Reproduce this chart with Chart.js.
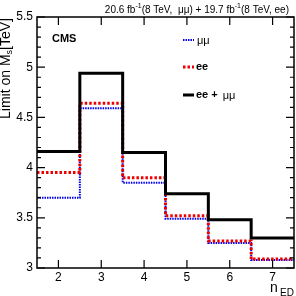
<!DOCTYPE html>
<html><head><meta charset="utf-8">
<script src="https://cdn.jsdelivr.net/npm/chart.js@4.4.1/dist/chart.umd.min.js"></script>
<style>html,body{margin:0;padding:0;background:#fff}#wrap{width:296px;height:296px}</style>
</head><body><div id="wrap"><canvas id="c" width="296" height="296"></canvas></div>
<script>
const nED = [2, 3, 4, 5, 6, 7];
const limitMuMu = [3.70, 4.59, 3.85, 3.49, 3.25, 3.08];
const limitEE = [3.95, 4.64, 3.90, 3.52, 3.27, 3.09];
const limitComb = [4.16, 4.94, 4.15, 3.74, 3.48, 3.30];
const yTicks = [3, 3.5, 4, 4.5, 5, 5.5];

function steps(vals) {
  const pts = nED.map((n, i) => ({x: n - 0.5, y: vals[i]}));
  pts.push({x: nED[nED.length - 1] + 0.5, y: vals[vals.length - 1]});
  return pts;
}

const FONT = "'Liberation Sans', Arial, sans-serif";

const decor = {
  id: 'decor',
  afterDatasetsDraw(chart) {
    const ctx = chart.ctx, a = chart.chartArea;
    const xs = chart.scales.x, ys = chart.scales.y;
    ctx.save();
    ctx.strokeStyle = '#000';
    ctx.lineWidth = 1.5;
    ctx.strokeRect(a.left, a.top, a.right - a.left, a.bottom - a.top);
    ctx.lineWidth = 1.2;
    nED.forEach(n => {
      const px = xs.getPixelForValue(n);
      ctx.beginPath();
      ctx.moveTo(px, a.bottom); ctx.lineTo(px, a.bottom - 8);
      ctx.moveTo(px, a.top); ctx.lineTo(px, a.top + 8);
      ctx.stroke();
    });
    for (let k = 0; k <= 25; k++) {
      const v = 3 + k * 0.1;
      const py = ys.getPixelForValue(v);
      const len = (k % 5 === 0) ? 8 : 4;
      ctx.beginPath();
      ctx.moveTo(a.left, py); ctx.lineTo(a.left + len, py);
      ctx.moveTo(a.right, py); ctx.lineTo(a.right - len, py);
      ctx.stroke();
    }
    ctx.fillStyle = '#000';
    ctx.textBaseline = 'middle';
    ctx.textAlign = 'left';
    ctx.font = 'bold 11px ' + FONT;
    ctx.fillText('CMS', 52, 39);
    const leg = [
      {y: 40, color: '#0000ee', dash: [1.5, 1], w: 2},
      {y: 67, color: '#ee0000', dash: [2.5, 2], w: 3},
      {y: 95, color: '#000', dash: [], w: 3}
    ];
    leg.forEach(l => {
      ctx.beginPath();
      ctx.strokeStyle = l.color; ctx.lineWidth = l.w; ctx.setLineDash(l.dash);
      ctx.moveTo(183, l.y); ctx.lineTo(194, l.y); ctx.stroke();
    });
    ctx.setLineDash([]);
    ctx.fillStyle = '#000';
    ctx.font = '11px ' + FONT;
    ctx.fillText('μμ', 197, 41);
    ctx.font = 'bold 11px ' + FONT;
    ctx.fillText('ee', 196, 67);
    ctx.fillText('ee +', 196, 95);
    const w1 = ctx.measureText('ee + ').width;
    ctx.font = '11px ' + FONT;
    ctx.fillText('μμ', 196 + w1 + 2, 96);
    const parts = [
      ['20.6 fb', 10, 0], ['-1', 7, -4], ['(8 TeV,  μμ) + 19.7 fb', 10, 0], ['-1', 7, -4], ['(8 TeV, ee)', 10, 0]
    ];
    let tot = 0;
    parts.forEach(p => { ctx.font = p[1] + 'px ' + FONT; tot += ctx.measureText(p[0]).width; });
    let x = 289 - tot;
    parts.forEach(p => { ctx.font = p[1] + 'px ' + FONT; ctx.fillText(p[0], x, 10 + p[2]); x += ctx.measureText(p[0]).width; });
    ctx.font = '14px ' + FONT;
    ctx.textAlign = 'left';
    ctx.fillText('n', 270, 288);
    ctx.font = '10px ' + FONT;
    ctx.fillText('ED', 280, 293);
    ctx.save();
    ctx.translate(6, 18);
    ctx.rotate(-Math.PI / 2);
    const yp = [['Limit on M', 14, 0], ['s', 9, 4], ['[TeV]', 14, 0]];
    let ytot = 0;
    yp.forEach(p => { ctx.font = p[1] + 'px ' + FONT; ytot += ctx.measureText(p[0]).width; });
    let yx = -ytot;
    yp.forEach(p => { ctx.font = p[1] + 'px ' + FONT; ctx.fillText(p[0], yx, p[2]); yx += ctx.measureText(p[0]).width; });
    ctx.restore();
    ctx.restore();
  }
};

new Chart(document.getElementById('c'), {
  type: 'line',
  data: {
    datasets: [
      {label: 'μμ', data: steps(limitMuMu), stepped: 'before', borderColor: '#0000ee', borderWidth: 2, borderDash: [1.5, 1], pointRadius: 0, fill: false, order: 3},
      {label: 'ee', data: steps(limitEE), stepped: 'before', borderColor: '#ee0000', borderWidth: 3, borderDash: [2.5, 2], pointRadius: 0, fill: false, order: 2},
      {label: 'ee + μμ', data: steps(limitComb), stepped: 'before', borderColor: '#000', borderWidth: 3, pointRadius: 0, fill: false, order: 1}
    ]
  },
  options: {
    responsive: false,
    animation: false,
    devicePixelRatio: 1,
    layout: {padding: {top: 17, right: 2, left: 0, bottom: 0}},
    plugins: {legend: {display: false}, tooltip: {enabled: false}},
    scales: {
      x: {
        type: 'linear', min: 1.5, max: 7.5,
        afterBuildTicks: s => { s.ticks = nED.map(v => ({value: v})); },
        afterFit: s => { s.height = 28; },
        grid: {display: false, drawTicks: false},
        border: {display: false},
        ticks: {color: '#000', font: {family: FONT, size: 12}, padding: 2, callback: v => String(v)}
      },
      y: {
        type: 'linear', min: 3, max: 5.5,
        afterBuildTicks: s => { s.ticks = yTicks.map(v => ({value: v})); },
        afterFit: s => { s.width = 37; },
        grid: {display: false, drawTicks: false},
        border: {display: false},
        ticks: {color: '#000', font: {family: FONT, size: 12}, padding: 4, callback: v => String(v)}
      }
    }
  },
  plugins: [decor]
});
</script>
</body></html>
